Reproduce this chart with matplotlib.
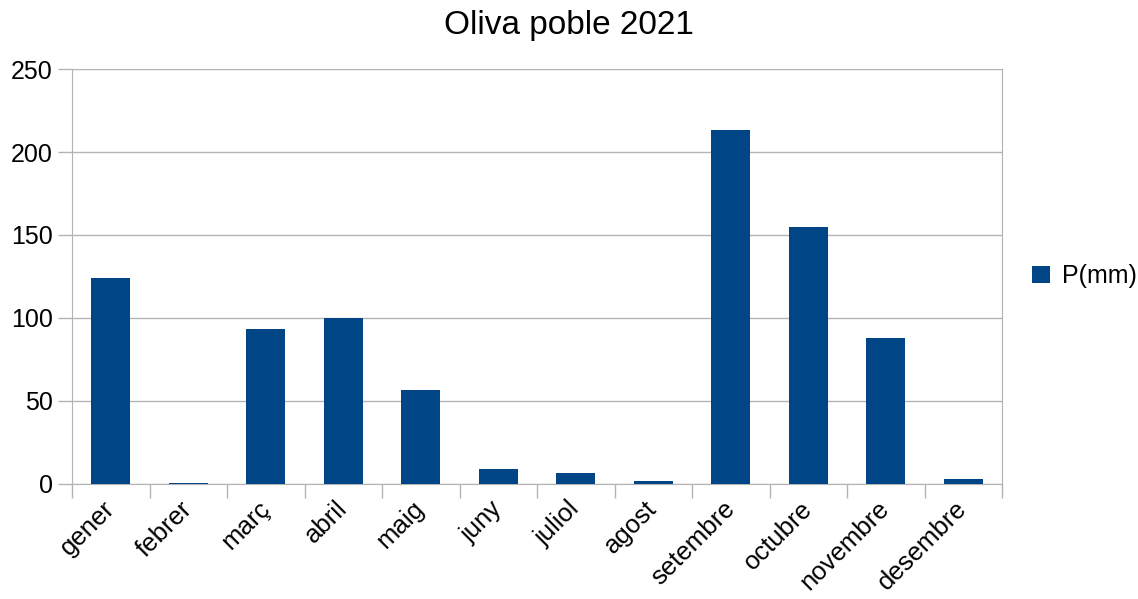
import matplotlib.pyplot as plt
import matplotlib.transforms as mtransforms
import numpy as np
from matplotlib.ticker import FixedLocator

months = ["gener", "febrer", "març", "abril", "maig", "juny", "juliol",
          "agost", "setembre", "octubre", "novembre", "desembre"]
rain_mm = [124.1, 0.6, 93.4, 100.0, 56.6, 9.0, 6.6, 1.8, 213.3, 154.8, 88.0, 3.0]
series_name = "P(mm)"
title = "Oliva poble 2021"

BAR_COLOR = "#004586"
GRID_COLOR = "#b3b3b3"


def main():
    plt.rcParams["font.family"] = ["Liberation Sans", "DejaVu Sans"]

    fig = plt.figure(figsize=(11.38, 5.99), dpi=100)
    ax = fig.add_axes([0.0633, 0.192, 0.8172, 0.6928])

    x = np.arange(len(months))
    ax.bar(x, rain_mm, width=0.5, color=BAR_COLOR, label=series_name, zorder=3)

    ax.set_xlim(-0.5, len(months) - 0.5)
    ax.set_ylim(0, 250)
    ax.set_yticks(np.arange(0, 251, 50))
    ax.yaxis.grid(True, color=GRID_COLOR, linewidth=1)
    ax.set_axisbelow(True)

    ax.set_xticks(x)
    ax.set_xticklabels(months, rotation=45, ha="right", rotation_mode="anchor")
    ax.xaxis.set_minor_locator(FixedLocator(np.arange(-0.5, len(months), 1.0)))
    ax.tick_params(axis="x", which="major", length=0, pad=9, labelsize=18.5)
    ax.tick_params(axis="x", which="minor", length=10, color=GRID_COLOR, width=1)
    ax.tick_params(axis="y", length=10, color=GRID_COLOR, width=1, labelsize=18, pad=4)

    # nudge rotated month labels a little to the left
    shift = mtransforms.ScaledTranslation(-6 / 72, 0, fig.dpi_scale_trans)
    for lbl in ax.get_xticklabels():
        lbl.set_transform(lbl.get_transform() + shift)

    for side in ["left", "bottom", "right"]:
        ax.spines[side].set_color(GRID_COLOR)
    ax.spines["top"].set_visible(False)

    # title is centred on the whole figure, not on the plot area
    fig.text(0.5, 0.958, title, fontsize=24, ha="center", va="center")

    ax.legend(loc="center left", bbox_to_anchor=(1.0, 0.5), frameon=False,
              fontsize=18, handlelength=0.7, handleheight=0.7, handletextpad=0.5,
              borderaxespad=1.2, borderpad=0)

    fig.savefig("out.png", dpi=100)
    plt.close(fig)


if __name__ == "__main__":
    main()
